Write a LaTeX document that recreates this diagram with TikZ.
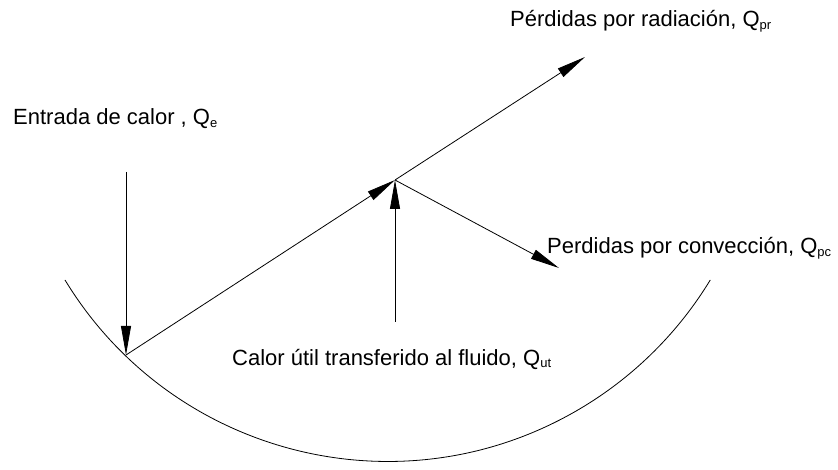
\documentclass[tikz,border=0pt]{standalone}
\usepackage{fontspec}
\setmainfont{Liberation Sans}
\usetikzlibrary{arrows.meta}
\newcommand{\qsub}[1]{\raisebox{-0.12em}{\fontsize{13}{13}\selectfont #1}}
\begin{document}
\begin{tikzpicture}[x=1pt,y=-1pt,
  flow/.style={line width=0.8pt,-{Triangle[length=29pt,width=10pt]}},
  lbl/.style={anchor=base west,inner sep=0pt,font=\fontsize{22}{26}\selectfont}]
\useasboundingbox (0,0) rectangle (838,470);
% points
\coordinate (T) at (126,172);
\coordinate (R) at (126,355);
\coordinate (J) at (395,180);
\coordinate (E) at (585,57);
\coordinate (B) at (395,322);
\coordinate (C) at (559,268);
% trough (circular arc)
\draw[line width=0.8pt] (65,280) arc[start angle=148.7,end angle=31.3,radius=377.6];
% arrows
\draw[flow] (T) -- (R);
\draw[flow] (R) -- (J);
\draw[flow] (J) -- (E);
\draw[flow] (B) -- (J);
\draw[flow] (J) -- (C);
% labels
\node[lbl] (le) at (13,125) {Entrada de calor , Q\qsub{e}};
\node[lbl] (lr) at (510,27) {Pérdidas por radiación, Q\qsub{pr}};
\node[lbl] (lc) at (547,254) {Perdidas por convección, Q\qsub{pc}};
\node[lbl] (lu) at (232,365) {Calor útil transferido al fluido, Q\qsub{ut}};
\end{tikzpicture}
\end{document}
